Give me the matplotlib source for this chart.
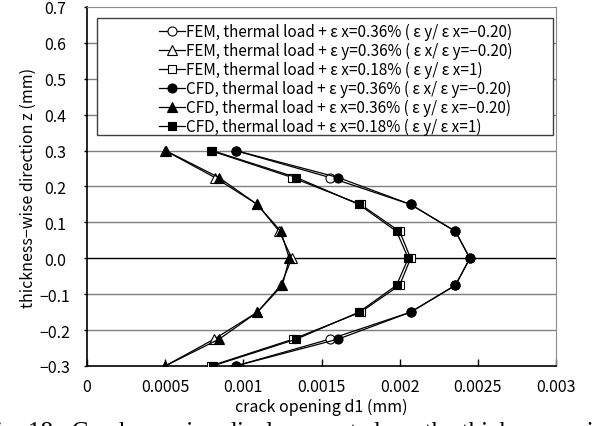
import matplotlib
matplotlib.use("Agg")
import matplotlib.pyplot as plt
from matplotlib.patches import Rectangle

plt.rcParams['font.family'] = ['Noto Sans CJK JP', 'DejaVu Sans']

# thickness-wise positions (mm)
z = [0.3, 0.225, 0.15, 0.075, 0.0, -0.075, -0.15, -0.225, -0.3]

# crack opening d1 (mm)
fem_circle = [0.00095, 0.001554, 0.00207, 0.002357, 0.002449, 0.002357, 0.00207, 0.001554, 0.00095]
fem_tri = [0.0005, 0.000818, 0.00109, 0.00123, 0.00131, 0.00124, 0.00109, 0.000814, 0.0005]
fem_sq = [0.00079, 0.001313, 0.00175, 0.002, 0.00207, 0.002, 0.00175, 0.00132, 0.00079]
cfd_circle = [0.000953, 0.001607, 0.00207, 0.002357, 0.002449, 0.002357, 0.00207, 0.001607, 0.00095]
cfd_tri = [0.000503, 0.000844, 0.001089, 0.00124, 0.001294, 0.00125, 0.00109, 0.000846, 0.000499]
cfd_sq = [0.000801, 0.00134, 0.001739, 0.00198, 0.002055, 0.00198, 0.00174, 0.00134, 0.000804]

labels = [
    "FEM, thermal load + ε x=0.36% ( ε y/ ε x=−0.20)",
    "FEM, thermal load + ε y=0.36% ( ε x/ ε y=−0.20)",
    "FEM, thermal load + ε x=0.18% ( ε y/ ε x=1)",
    "CFD, thermal load + ε y=0.36% ( ε x/ ε y=−0.20)",
    "CFD, thermal load + ε x=0.36% ( ε y/ ε x=−0.20)",
    "CFD, thermal load + ε x=0.18% ( ε y/ ε x=1)",
]

xticks = [0, 0.0005, 0.001, 0.0015, 0.002, 0.0025, 0.003]
xticklabels = ["0", "0.0005", "0.001", "0.0015", "0.002", "0.0025", "0.003"]
yticks = [-0.3, -0.2, -0.1, 0.0, 0.1, 0.2, 0.3, 0.4, 0.5, 0.6, 0.7]
yticklabels = ["−0.3", "−0.2", "−0.1", "0.0", "0.1", "0.2", "0.3", "0.4", "0.5", "0.6", "0.7"]

fig = plt.figure(figsize=(5.92, 4.27), dpi=100)
ax = fig.add_axes([87 / 592, 1 - 367 / 427, 469 / 592, 359 / 427])

series = [
    (fem_circle, 'o', 'white', 6.5),
    (fem_tri, '^', 'white', 6.5),
    (fem_sq, 's', 'white', 6),
    (cfd_circle, 'o', 'black', 6.5),
    (cfd_tri, '^', 'black', 6.5),
    (cfd_sq, 's', 'black', 6),
]
handles = []
for (vals, m, fc, ms), lab in zip(series, labels):
    h, = ax.plot(vals, z, color='black', lw=0.9, marker=m, ms=ms,
                 mfc=fc, mec='black', mew=0.8, label=lab, zorder=3)
    handles.append(h)

ax.set_xlim(0, 0.003)
ax.set_ylim(-0.3, 0.7)
ax.set_xticks(xticks)
ax.set_xticklabels(xticklabels)
ax.set_yticks(yticks)
ax.set_yticklabels(yticklabels, ha='center')

for yv in yticks[1:-1]:
    ax.axhline(yv, color='black' if yv == 0 else '#7f7f7f', lw=1.0, zorder=1)

ax.tick_params(axis='x', direction='in', length=5, width=1, labelsize=11.5, pad=9)
ax.tick_params(axis='y', direction='out', length=2, width=1, labelsize=11.5, pad=21)
for s in ['top', 'right']:
    ax.spines[s].set_color('#8c8c8c')
for s in ['left', 'bottom']:
    ax.spines[s].set_color('black')
    ax.spines[s].set_linewidth(1.2)

ax.set_xlabel("crack opening d1 (mm)", fontsize=11.5, labelpad=2)
ax.set_ylabel("thickness−wise direction z (mm)", fontsize=11.5, labelpad=2)

# legend frame
x0 = (97 - 87) / 469
x1 = (553 - 87) / 469
y1 = (367 - 19) / 359
y0 = (367 - 136) / 359
ax.add_patch(Rectangle((x0, y0), x1 - x0, y1 - y0, transform=ax.transAxes,
                       facecolor='white', edgecolor='#404040', lw=1.0, zorder=4))
leg = ax.legend(handles=handles, loc='upper left', bbox_to_anchor=(0.127, 0.99),
                frameon=False, fontsize=11, handlelength=1.7, handletextpad=0.1,
                labelspacing=0.12, borderpad=0.3)
leg.set_zorder(5)

fig.text(-0.03, -0.04, "Fig. 18   Crack opening displacement along the thickness−wise direction",
         family='Liberation Serif', fontsize=18, va='bottom', ha='left')

fig.savefig("out.png", dpi=100)
